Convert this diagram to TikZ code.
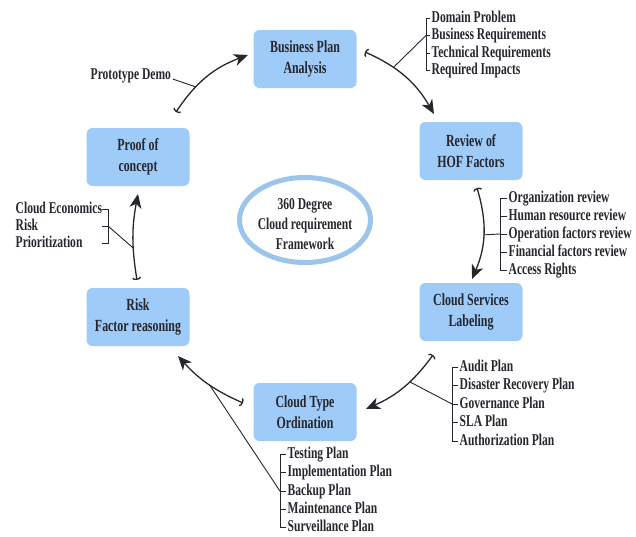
\documentclass[tikz,border=0pt]{standalone}
\usepackage{fontspec}
\setmainfont{Liberation Serif}[FakeStretch=0.70]
\usetikzlibrary{arrows.meta}
\definecolor{boxblue}{RGB}{158,203,247}
\definecolor{ringblue}{RGB}{157,197,236}
\definecolor{ink}{RGB}{38,38,46}

\begin{document}
\begin{tikzpicture}[x=1pt, y=-1pt, text=ink,
	font=\fontsize{16.5}{17.5}\selectfont\bfseries,
	stage/.style={fill=boxblue, rounded corners=6pt, minimum width=103pt, minimum height=58pt, align=center, font=\fontsize{17}{21}\selectfont\bfseries},
	flow/.style={draw=ink, line width=1.3pt, arrows={Arc Barb[width=9pt, length=2.5pt]-Stealth[length=14pt, width=12pt, inset=4pt]}},
	twig/.style={draw=ink, line width=0.9pt},
	item/.style={anchor=west, inner xsep=1.5pt, inner ysep=0pt, text height=11pt, text depth=3pt}]
	\useasboundingbox (0,0) rectangle (636,536);
	% stages of the cycle
	\node[stage] (bpa) at (305,59) {Business Plan\\Analysis};
	\node[stage] (hof) at (471,151) {Review of\\HOF Factors};
	\node[stage] (csl) at (471,312) {Cloud Services\\Labeling};
	\node[stage] (cto) at (305,412) {Cloud Type\\Ordination};
	\node[stage] (rfr) at (138,317) {Risk\\Factor reasoning};
	\node[stage] (poc) at (138,157) {Proof of\\concept};
	% centre
	\node[align=center, font=\fontsize{16.5}{20}\selectfont\bfseries] (core) at (305,224) {360 Degree\\Cloud requirement\\Framework};
	\draw[ringblue, line width=5pt] (305,220) ellipse [x radius=65.5pt, y radius=42.5pt];
	% arrow ends
	\coordinate (s1) at (365,52);  \coordinate (e1) at (434,114);
	\coordinate (s2) at (477,188); \coordinate (e2) at (472,279);
	\coordinate (s3) at (433,355); \coordinate (e3) at (366,409);
	\coordinate (s4) at (243,403); \coordinate (e4) at (178,356);
	\coordinate (s5) at (137,280); \coordinate (e5) at (138,194);
	\coordinate (s6) at (176,112); \coordinate (e6) at (248,55);
	\draw[flow] (s1) to[bend left=18] coordinate[pos=0.33] (m1) (e1);
	\draw[flow] (s2) to[bend left=20] coordinate[pos=0.51] (m2) (e2);
	\draw[flow] (s3) to[bend left=15] coordinate[pos=0.40] (m3) (e3);
	\draw[flow] (s4) to[bend left=12] coordinate[pos=0.47] (m4) (e4);
	\draw[flow] (s5) to[bend left=10] coordinate[pos=0.36] (m5) (e5);
	\draw[flow] (s6) to[bend left=18] coordinate[pos=0.33] (m6) (e6);
	% lists
	\foreach \t [count=\i] in {Domain Problem, Business Requirements, Technical Requirements, Required Impacts}
		\node[item] (req\i) at (430, 0.5+17.5*\i) {\t};
	\draw[twig] (req1.west) -- ++(-4,0) |- (req4.west);
	\draw[twig] (req2.west) -- ++(-4,0) (req3.west) -- ++(-4,0);
	\draw[twig] (m1) -- ([xshift=-4pt]req2.west);

	\foreach \t [count=\i] in {Organization review, Human resource review, Operation factors review, Financial factors review, Access Rights}
		\node[item] (rev\i) at (507, 180+18*\i) {\t};
	\draw[twig] (rev1.west) -- ++(-7,0) |- (rev5.west);
	\foreach \i in {2,3,4}
		\draw[twig] (rev\i.west) -- ++(-7,0);
	\draw[twig] (m2) -- ([xshift=-7pt]rev3.west);

	\foreach \t [count=\i] in {Audit Plan, Disaster Recovery Plan, Governance Plan, SLA Plan, Authorization Plan}
		\node[item] (plan\i) at (458, 348.5+18.5*\i) {\t};
	\draw[twig] (plan1.west) -- ++(-6,0) |- (plan5.west);
	\foreach \i in {2,3,4}
		\draw[twig] (plan\i.west) -- ++(-6,0);
	\draw[twig] (m3) -- ([xshift=-6pt]plan3.west);

	\foreach \t [count=\i] in {Testing Plan, Implementation Plan, Backup Plan, Maintenance Plan, Surveillance Plan}
		\node[item] (ops\i) at (286, 436.5+18.2*\i) {\t};
	\draw[twig] (ops1.west) -- ++(-6,0) |- (ops5.west);
	\foreach \i in {2,3,4}
		\draw[twig] (ops\i.west) -- ++(-6,0);
	\draw[twig] (m4) -- ([xshift=-6pt]ops3.west);

	\foreach \t [count=\i] in {Cloud Economics, Risk, Prioritization}
		\node[item] (econ\i) at (14, 192+17*\i) {\t};
	\draw[twig] (102,209) -- (108,209) -- (108,243) -- (102,243) (102,226) -- (108,226);
	\draw[twig] (108,226) -- (m5);

	\node[item] (proto) at (89,75) {Prototype Demo};
	\draw[twig] (proto.base east) -- (m6);
\end{tikzpicture}
\end{document}
